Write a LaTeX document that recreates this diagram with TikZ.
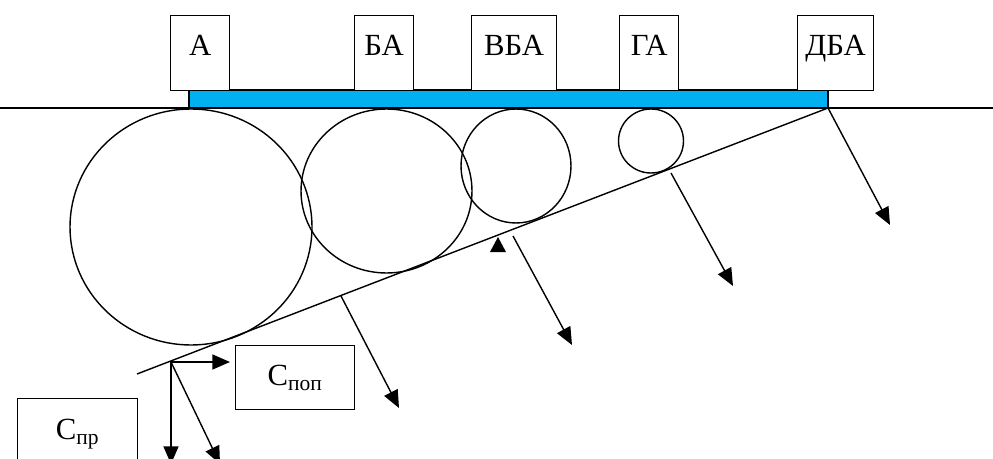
\documentclass[tikz,border=0pt]{standalone}
\usepackage{fontspec}
\setmainfont{Liberation Serif}
\usetikzlibrary{arrows.meta}
\definecolor{barblue}{RGB}{0,176,240}

\begin{document}
\begin{tikzpicture}[x=0.02cm, y=-0.02cm, >={Triangle[length=10pt,width=8.5pt]},
    line width=0.8pt, font=\fontsize{17.5}{20}\selectfont,
    tbox/.style={draw, fill=white, inner sep=0pt, anchor=north west,
      minimum width=1.18cm, text height=0.8cm, text depth=0.7cm}]
    \clip (0,0) rectangle (993,459);
    % Ground and bar
    \draw (0,108) -- (993,108);
    \draw[fill=barblue] (189,90) rectangle (828,108);
    % Boxes on the bar
    \node[tbox] (a) at (170,15) {А};
    \node[tbox] (ba) at (354,15) {БА};
    \node[tbox, minimum width=1.70cm] (vba) at (471,15) {ВБА};
    \node[tbox] (ga) at (619,15) {ГА};
    \node[tbox, minimum width=1.52cm] (dba) at (797,15) {ДБА};
    % Circles
    \draw (191,227) ellipse [x radius=2.42cm, y radius=2.36cm];
    \draw (386.5,191) ellipse [x radius=1.71cm, y radius=1.64cm];
    \draw (516,166) ellipse [x radius=1.10cm, y radius=1.14cm];
    \draw (651,141) ellipse [x radius=0.65cm, y radius=0.64cm];
    % Slope
    \coordinate (top) at (828,108);
    \coordinate (low) at (137,374);
    \coordinate (o) at (171,362);
    \draw (top) -- (low);
    % Forces
    \coordinate (s2) at (671,173);
    \coordinate (s3) at (513,236);
    \coordinate (s4) at (341,296);
    \coordinate (e1) at (890,225);
    \coordinate (e2) at (733,286);
    \coordinate (e3) at (572,345);
    \coordinate (e4) at (399,408);
    \coordinate (e5) at (220,464);
    \coordinate (e6) at (171,464);
    \coordinate (e7) at (230,362);
    \draw[->] (top) -- (e1);
    \draw[->] (s2) -- (e2);
    \draw[->] (s3) -- (e3);
    \draw[->] (s4) -- (e4);
    \draw[->] (o) -- (e5);
    \draw[->] (o) -- (e6);
    \draw[->] (o) -- (e7);
    % Support mark
    \fill (498,237) -- (506,252) -- (490,252) -- cycle;
    % Labels
    \node[tbox, minimum width=2.38cm, text depth=0.48cm] (cpop) at (235,345) {С\textsubscript{поп}};
    \node[tbox, minimum width=2.40cm, text height=0.82cm, text depth=1.0cm] (cpr) at (17,398) {С\textsubscript{пр}};
\end{tikzpicture}
\end{document}
